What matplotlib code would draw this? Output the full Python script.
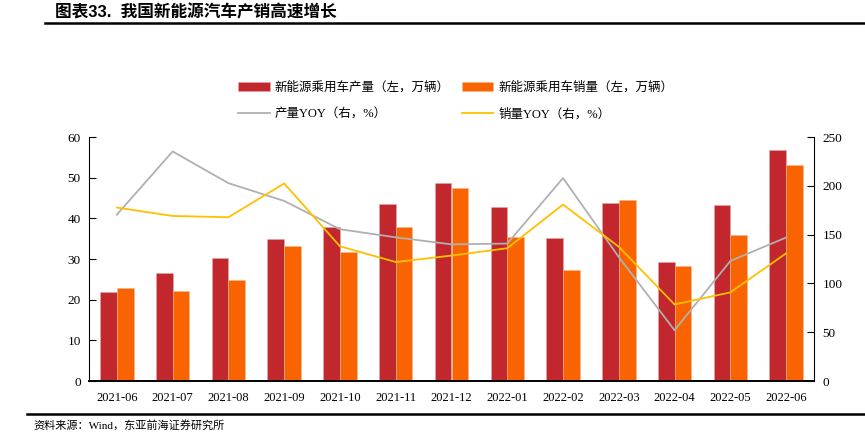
import matplotlib
matplotlib.use("Agg")
import matplotlib.pyplot as plt
import numpy as np
from matplotlib.lines import Line2D

months = ["2021-06", "2021-07", "2021-08", "2021-09", "2021-10", "2021-11", "2021-12",
          "2022-01", "2022-02", "2022-03", "2022-04", "2022-05", "2022-06"]
production = [21.8, 26.6, 30.2, 34.8, 37.8, 43.6, 48.8, 42.9, 35.2, 43.8, 29.3, 43.2, 56.7]
sales = [22.9, 22.1, 24.8, 33.3, 31.6, 37.8, 47.4, 35.3, 27.2, 44.4, 28.2, 35.8, 53.1]
prod_yoy = [170.5, 235.2, 202.7, 184.5, 155.5, 147.2, 140.0, 140.8, 207.9, 127.0, 52.0, 123.0, 147.0]
sales_yoy = [177.7, 169.1, 167.8, 202.4, 138.0, 121.9, 128.5, 136.0, 180.8, 137.5, 78.4, 90.8, 130.8]

labels = ["新能源乘用车产量（左，万辆）", "新能源乘用车销量（左，万辆）", "产量YOY（右，%）", "销量YOY（右，%）"]
title = "图表33.  我国新能源汽车产销高速增长"
source = "资料来源：Wind，东亚前海证券研究所"

FAM = ["Liberation Serif", "Noto Sans CJK SC"]
plt.rcParams["font.family"] = FAM

RED = "#C1272D"
ORANGE = "#FA6400"
GRAY = "#B0B0B0"
YELLOW = "#FFC000"

fig = plt.figure(figsize=(8.65, 4.47), dpi=100)
ax = fig.add_axes([89/865, 1-381/447, (814-89)/865, (381-137)/447])
ax2 = ax.twinx()

x = np.arange(len(months))
w = 0.3
b1 = ax.bar(x - w/2, production, width=w, color=RED, edgecolor="#E6A6A8", linewidth=0.4, label=labels[0])
b2 = ax.bar(x + w/2, sales, width=w, color=ORANGE, edgecolor="#F8B98F", linewidth=0.4, label=labels[1])
l1, = ax2.plot(x, prod_yoy, color=GRAY, lw=1.3, label=labels[2])
l2, = ax2.plot(x, sales_yoy, color=YELLOW, lw=1.3, label=labels[3])

ax.set_xlim(-0.5, len(months) - 0.5)
ax.set_ylim(0, 60)
ax.set_yticks(range(0, 61, 10))
ax2.set_ylim(0, 250)
ax2.set_yticks(range(0, 251, 50))
ax.set_xticks(x)
ax.set_xticklabels(months)

for a in (ax, ax2):
    a.spines["top"].set_visible(False)
    a.tick_params(axis="y", direction="in", length=5, width=0.8, labelsize=9.5, pad=6)
    a.tick_params(axis="x", length=0, labelsize=9, pad=8)
ax2.spines["left"].set_visible(False)
ax2.spines["bottom"].set_visible(False)
ax.spines["right"].set_visible(False)
ax.spines["bottom"].set_linewidth(1.4)
ax.spines["left"].set_linewidth(0.8)
ax2.spines["right"].set_linewidth(0.8)

fig.legend([b1, l1, b2, l2], [labels[0], labels[2], labels[1], labels[3]],
           ncol=2, loc="center", bbox_to_anchor=(456/865, 1-101/447), frameon=False,
           fontsize=9, handlelength=2.5, handletextpad=0.4, columnspacing=1.0,
           labelspacing=1.15)

fig.text(55/865, 1-12/447, title, fontsize=12, fontweight="bold", va="center", ha="left",
         family=["Liberation Sans", "Noto Sans CJK SC"])
fig.add_artist(Line2D([45/865, 1.0], [1-23/447, 1-23/447], color="black", lw=1.8, transform=fig.transFigure))
fig.add_artist(Line2D([27/865, 1.0], [1-414/447, 1-414/447], color="black", lw=1.8, transform=fig.transFigure))
fig.text(33/865, 1-425/447, source, fontsize=8, va="center", ha="left")

fig.savefig("out.png", dpi=100)
